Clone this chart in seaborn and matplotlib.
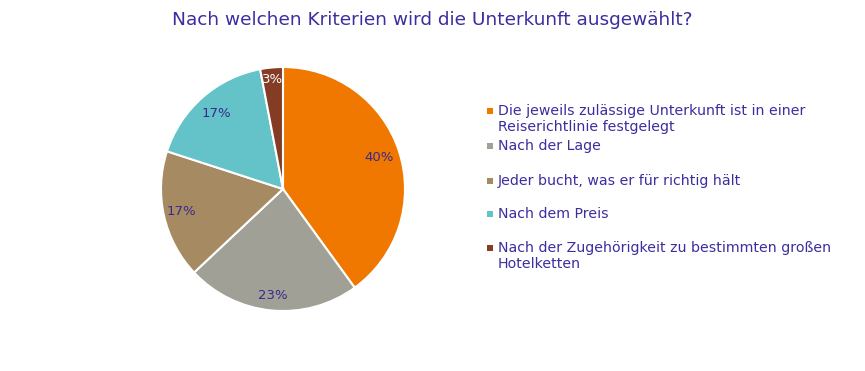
import matplotlib
matplotlib.use("Agg")
import matplotlib.pyplot as plt
import seaborn as sns
import numpy as np
from matplotlib.patches import Rectangle

# Data
categories = [
    "Die jeweils zulässige Unterkunft ist in einer\nReiserichtlinie festgelegt",
    "Nach der Lage",
    "Jeder bucht, was er für richtig hält",
    "Nach dem Preis",
    "Nach der Zugehörigkeit zu bestimmten großen\nHotelketten",
]
shares = [40, 23, 17, 17, 3]
colors = ["#F07800", "#A0A096", "#A68B62", "#63C3C8", "#843C24"]
label_colors = ["#3A2A8C", "#3A2A8C", "#3A2A8C", "#3A2A8C", "#FFFFFF"]
label_dist = [0.83, 0.88, 0.85, 0.82, 0.9]  # radial position of percent labels

text_color = "#3B2E9E"

sns.set_theme(style="white")
plt.rcParams['font.family'] = ['DejaVu Sans']

W, H = 865, 371
fig = plt.figure(figsize=(W / 100, H / 100), dpi=100)
fig.patch.set_facecolor("white")

# pie axis: centre (283, 189), radius 122 px
cx, cy, r = 283, 189, 122
ax = fig.add_axes([(cx - r) / W, (H - cy - r) / H, 2 * r / W, 2 * r / H])
wedges, texts = ax.pie(shares, colors=colors, startangle=90, counterclock=False,
                       wedgeprops=dict(edgecolor="white", linewidth=1.5))
ax.set_xlim(-1, 1)
ax.set_ylim(-1, 1)
ax.set_aspect("equal")
ax.axis("off")

cum = np.cumsum([0] + shares)
tot = sum(shares)
for i, v in enumerate(shares):
    mid = (cum[i] + cum[i + 1]) / 2 / tot * 360
    ang = np.deg2rad(90 - mid)
    d = label_dist[i]
    ax.text(d * np.cos(ang), d * np.sin(ang), f"{v}%", ha="center", va="center",
            fontsize=9.5, color=label_colors[i])

fig.text(0.5 * (168 + 697) / W, 1 - 20 / H, "Nach welchen Kriterien wird die Unterkunft ausgewählt?",
         ha="center", va="center", fontsize=13.3, color=text_color)

# legend
entry_y = [111, 146, 181, 214, 248]
for lab, col, y in zip(categories, colors, entry_y):
    fig.patches.append(Rectangle((487 / W, 1 - (y + 3) / H), 6 / W, 6 / H,
                                 transform=fig.transFigure, facecolor=col, edgecolor="none"))
    fig.text(498 / W, 1 - (y - 7) / H, lab, ha="left", va="top", fontsize=10.2,
             color=text_color, linespacing=1.2)

fig.savefig("out.png", dpi=100)
